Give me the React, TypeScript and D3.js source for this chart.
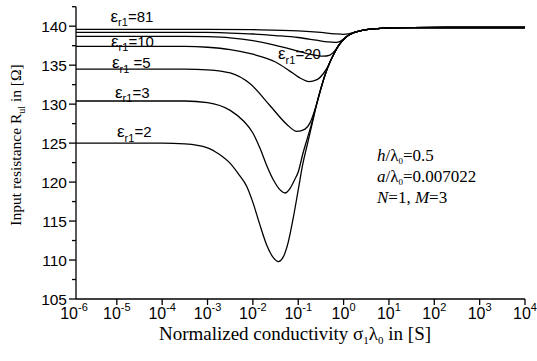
import React from 'react';
import * as d3 from 'd3';

// [log10(sigma1*lambda0), R in ohm]
const epsR81 = [[-6, 139.6], [-3, 139.6], [-2, 139.55], [-1, 139.4], [-0.5, 139.2], [-0.2, 139.02], [0, 138.95], [0.1, 139.0], [0.2, 139.15], [0.3, 139.3]];
const epsR40 = [[-6, 139.2], [-3, 139.2], [-2.5, 139.12], [-2, 139.0], [-1.5, 138.8], [-1, 138.55], [-0.6, 138.2], [-0.35, 137.98], [-0.2, 137.92], [-0.1, 138.0], [0, 138.35], [0.1, 138.8], [0.2, 139.1], [0.3, 139.3]];
const epsR20 = [[-6, 138.7], [-3.5, 138.7], [-3, 138.65], [-2.5, 138.5], [-2, 138.15], [-1.5, 137.55], [-1, 136.8], [-0.7, 136.35], [-0.45, 136.15], [-0.3, 136.3], [-0.2, 136.8], [-0.1, 137.6], [0, 138.3], [0.1, 138.8], [0.2, 139.1], [0.3, 139.3]];
const epsR10 = [[-6, 137.4], [-3.5, 137.4], [-3, 137.3], [-2.5, 137.0], [-2, 136.4], [-1.5, 135.4], [-1.2, 134.3], [-1, 133.5], [-0.76, 132.9], [-0.6, 133.1], [-0.45, 133.9], [-0.35, 134.8], [-0.2, 136.6], [-0.1, 137.6], [0, 138.3], [0.1, 138.8], [0.2, 139.1], [0.3, 139.3]];
const epsR5 = [[-6, 134.5], [-3.5, 134.5], [-3, 134.4], [-2.5, 134.0], [-2.06, 132.6], [-1.62, 129.8], [-1.25, 127.4], [-1.03, 126.5], [-0.85, 126.8], [-0.74, 127.6], [-0.6, 129.9], [-0.5, 132.0], [-0.4, 133.9], [-0.3, 135.4], [-0.2, 136.6], [-0.1, 137.6], [0, 138.3], [0.1, 138.8], [0.2, 139.1], [0.3, 139.3]];
const epsR3 = [[-6, 130.4], [-3.5, 130.4], [-3, 130.2], [-2.5, 129.2], [-2.2, 127.8], [-2, 126.3], [-1.84, 124.3], [-1.7, 122.2], [-1.55, 120.3], [-1.4, 119.0], [-1.29, 118.6], [-1.18, 119.2], [-1.08, 120.3], [-1, 121.3], [-0.9, 123.6], [-0.8, 125.6], [-0.7, 127.6], [-0.6, 129.9], [-0.5, 132.0], [-0.4, 133.9], [-0.3, 135.4], [-0.2, 136.6], [-0.1, 137.6], [0, 138.3], [0.1, 138.8], [0.2, 139.1], [0.3, 139.3]];
const epsR2 = [[-6, 125.0], [-4, 125.0], [-3.5, 124.9], [-3, 124.4], [-2.75, 123.6], [-2.5, 122.4], [-2.3, 120.9], [-2.14, 119.5], [-2, 117.4], [-1.85, 114.6], [-1.7, 112.0], [-1.55, 110.3], [-1.44, 109.8], [-1.33, 110.4], [-1.22, 112.3], [-1.11, 115.4], [-1, 119.0], [-0.9, 122.3], [-0.8, 124.8], [-0.7, 127.3], [-0.6, 129.8], [-0.5, 132.0], [-0.4, 133.9], [-0.3, 135.4], [-0.2, 136.6], [-0.1, 137.6], [0, 138.3], [0.1, 138.8], [0.2, 139.1], [0.3, 139.3]];
// common high-conductivity tail
const tail = [[0.5, 139.55], [0.75, 139.7], [1, 139.78], [1.5, 139.82], [2.5, 139.83], [4, 139.83]];

const curves = [epsR81, epsR40, epsR20, epsR10, epsR5, epsR3, epsR2];

const curveLabels = [
  { eps: '81', gap: '', x: 110.5, y: 21.5 },
  { eps: '10', gap: '', x: 111, y: 46.5 },
  { eps: '5', gap: ' ', x: 112, y: 68 },
  { eps: '3', gap: '', x: 115, y: 97.5 },
  { eps: '2', gap: '', x: 117, y: 137 },
  { eps: '20', gap: '', x: 278, y: 59 },
];

const yTicks = [105, 110, 115, 120, 125, 130, 135, 140];
const yMinorTicks = [107.5, 112.5, 117.5, 122.5, 127.5, 132.5, 137.5, 142.5];
const xDecades = [-6, -5, -4, -3, -2, -1, 0, 1, 2, 3, 4];

const W = 537, H = 361;
const left = 76, right = 525, top = 6.7, bottom = 299;

const x = d3.scaleLog().domain([Math.pow(10, -5.9), 1e4]).range([left, right]);
const y = d3.scaleLinear().domain([105, 142.5]).range([bottom, top]);

const line = d3.line<number[]>()
  .x(d => x(Math.pow(10, d[0])))
  .y(d => y(d[1]))
  .curve(d3.curveMonotoneX);

const sans = 'Arial, "Liberation Sans", sans-serif';
const serif = '"Times New Roman", "Liberation Serif", serif';

export default function App() {
  return (
    <svg width={W} height={H} style={{ position: 'absolute', left: 0, top: 0, background: '#fff' }}>
      <defs>
        <clipPath id="plot">
          <rect x={left} y={top} width={right - left} height={bottom - top} />
        </clipPath>
      </defs>

      <g clipPath="url(#plot)" fill="none" stroke="#000" strokeWidth={1.3}>
        {curves.map((c, i) => (
          <path key={i} d={line(c.concat(tail)) || ''} />
        ))}
      </g>

      {/* axes */}
      <g stroke="#000" strokeWidth={1.3}>
        <line x1={left} x2={left} y1={top} y2={bottom} />
        <line x1={left} x2={right} y1={bottom} y2={bottom} />
        {yTicks.map(t => <line key={t} x1={left - 7} x2={left} y1={y(t)} y2={y(t)} />)}
        {yMinorTicks.map(t => <line key={t} x1={left - 4} x2={left} y1={y(t)} y2={y(t)} />)}
        {xDecades.slice(1).map(d => (
          <line key={d} x1={x(Math.pow(10, d))} x2={x(Math.pow(10, d))} y1={bottom} y2={bottom + 6} />
        ))}
      </g>

      <g fontFamily={sans} fill="#000">
        {yTicks.map(t => (
          <text key={t} x={left - 9} y={y(t) + 5.5} textAnchor="end" fontSize={15.5}>{t}</text>
        ))}
        {xDecades.map(d => {
          const px = Math.max(x(Math.pow(10, d)), left - 2);
          return (
            <text key={d} x={px} y={318.5} textAnchor="middle" fontSize={16}>
              10<tspan fontSize={11} dy={-8}>{d}</tspan>
            </text>
          );
        })}
      </g>

      {curveLabels.map(l => (
        <text key={l.eps} x={l.x} y={l.y} fontFamily={sans} fontSize={15} fill="#000">
          <tspan fontSize={17}>ε</tspan>
          <tspan fontSize={11} dy={4.5}>r1</tspan>
          <tspan dy={-4.5}>{l.gap}={l.eps}</tspan>
        </text>
      ))}

      <g fontFamily={serif} fill="#000">
        <g fontSize={17}>
          <text x={377} y={161}>
            <tspan fontStyle="italic">h</tspan>/λ<tspan fontSize={9} dy={3}>0</tspan><tspan dy={-3}>=0.5</tspan>
          </text>
          <text x={377} y={182}>
            <tspan fontStyle="italic">a</tspan>/λ<tspan fontSize={9} dy={3}>0</tspan><tspan dy={-3}>=0.007022</tspan>
          </text>
          <text x={377} y={203}>
            <tspan fontStyle="italic">N</tspan>=1, <tspan fontStyle="italic">M</tspan>=3
          </text>
        </g>

        <text x={295} y={340} textAnchor="middle" fontSize={19}>
          Normalized conductivity σ<tspan fontSize={11} dy={4}>1</tspan><tspan dy={-4}>λ</tspan><tspan fontSize={11} dy={4}>0</tspan><tspan dy={-4}> in [S]</tspan>
        </text>
        <text transform="translate(21,145) rotate(-90)" textAnchor="middle" fontSize={15.5}>
          Input resistance R<tspan fontSize={10} dy={4}>ul</tspan><tspan dy={-4}> in [Ω]</tspan>
        </text>
      </g>
    </svg>
  );
}
